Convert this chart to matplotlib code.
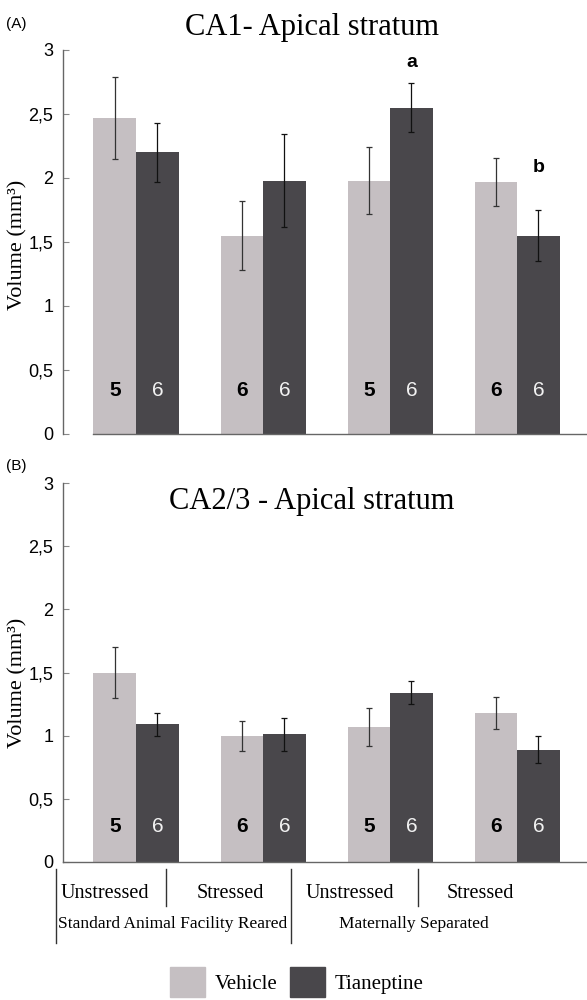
import matplotlib
matplotlib.use('Agg')
import matplotlib.pyplot as plt
from matplotlib.lines import Line2D
import numpy as np

# data
groups = ['Unstressed', 'Stressed', 'Unstressed', 'Stressed']
rearing = ['Standard Animal Facility Reared', 'Maternally Separated']
series = ['Vehicle', 'Tianeptine']

ca1_vehicle = [2.47, 1.55, 1.98, 1.97]
ca1_vehicle_err = [0.32, 0.27, 0.26, 0.19]
ca1_tian = [2.20, 1.98, 2.55, 1.55]
ca1_tian_err = [0.23, 0.36, 0.19, 0.20]

ca23_vehicle = [1.50, 1.00, 1.07, 1.18]
ca23_vehicle_err = [0.20, 0.12, 0.15, 0.13]
ca23_tian = [1.09, 1.01, 1.34, 0.89]
ca23_tian_err = [0.09, 0.13, 0.09, 0.11]

n_vehicle = [5, 6, 5, 6]
n_tian = [6, 6, 6, 6]

sig_letters = {2: 'a', 3: 'b'}   # over tianeptine bars in CA1
yticks = [0, 0.5, 1, 1.5, 2, 2.5, 3]
ytick_labels = ['0', '0,5', '1', '1,5', '2', '2,5', '3']

c_veh = '#c5bfc2'
c_tia = '#49474b'
W, H = 587, 1000
SANS = 'Liberation Sans'
SERIF = 'Liberation Serif'

def fx(px):
    return px / W

def fy(py):
    return 1 - py / H

fig = plt.figure(figsize=(W / 100, H / 100), dpi=100)

w = 0.335
x = np.arange(4)


def panel(top_px, bot_px, veh, veh_err, tia, tia_err, title, title_y, tag, tag_y, label_y, n_y, spine_from_bar):
    ax = fig.add_axes([fx(63), fy(bot_px), fx(587) - fx(63), fy(top_px) - fy(bot_px)])
    ax.bar(x - w / 2, veh, w, color=c_veh, edgecolor='none', zorder=2)
    ax.bar(x + w / 2, tia, w, color=c_tia, edgecolor='none', zorder=2)
    ax.errorbar(x - w / 2, veh, yerr=veh_err, fmt='none', ecolor='#333333',
                elinewidth=0.9, capsize=2.5, capthick=0.9, zorder=3)
    ax.errorbar(x + w / 2, tia, yerr=tia_err, fmt='none', ecolor='#111111',
                elinewidth=0.9, capsize=2.5, capthick=0.9, zorder=3)
    for i in range(4):
        ax.text(x[i] - w / 2, n_y, str(n_vehicle[i]), ha='center', va='center',
                fontsize=15, fontweight='bold', family=SANS, color='black', zorder=4)
        ax.text(x[i] + w / 2, n_y, str(n_tian[i]), ha='center', va='center',
                fontsize=15, family=SANS, color='#f2f2f2', zorder=4)
    ax.set_xlim(-0.575, 3.55)
    ax.set_ylim(0, 3)
    ax.set_yticks(yticks)
    ax.set_yticklabels(ytick_labels, family=SANS, fontsize=13)
    ax.set_xticks([])
    for s in ['top', 'right']:
        ax.spines[s].set_visible(False)
    for s in ['left', 'bottom']:
        ax.spines[s].set_color('#666666')
        ax.spines[s].set_linewidth(1.0)
    if spine_from_bar:
        ax.spines['bottom'].set_bounds(-w, 3.55)
    ax.tick_params(axis='y', direction='in', length=4, width=0.8, color='#888888', pad=7)
    ax.set_facecolor('none')
    fig.text(fx(312), fy(title_y), title, family=SERIF, fontsize=22,
             ha='center', va='center')
    fig.text(fx(6), fy(tag_y), tag, family=SANS, fontsize=11, ha='left', va='center')
    fig.text(fx(18), fy(label_y), 'Volume (mm³)', family=SERIF, fontsize=16,
             rotation=90, ha='center', va='center')
    return ax


axA = panel(50, 434, ca1_vehicle, ca1_vehicle_err, ca1_tian, ca1_tian_err,
            'CA1- Apical stratum', 28, '(A)', 24, 245, 0.34, True)
for i, s in sig_letters.items():
    top = ca1_tian[i] + ca1_tian_err[i]
    axA.text(x[i] + w / 2, top + 0.16 if i == 2 else top + 0.33, s, ha='center', va='center',
             fontsize=14, fontweight='bold', family=SANS)

axB = panel(483, 862, ca23_vehicle, ca23_vehicle_err, ca23_tian, ca23_tian_err,
            'CA2/3 - Apical stratum', 501, '(B)', 466, 683, 0.28, False)

# group labels under panel B
group_x = [105, 230, 350, 480]
for gx, g in zip(group_x, groups):
    fig.text(fx(gx), fy(894), g, family=SERIF, fontsize=14.5, ha='center', va='center')
rear_x = [173, 414]
for rx, r in zip(rear_x, rearing):
    fig.text(fx(rx), fy(924), r, family=SERIF, fontsize=12.5, ha='center', va='center')

for px, y0, y1 in [(56, 869, 943), (166, 869, 906), (291, 869, 943), (418, 869, 906)]:
    fig.add_artist(Line2D([fx(px), fx(px)], [fy(y0), fy(y1)], color='#333333', lw=1.0))

handles = [plt.Rectangle((0, 0), 1, 1, color=c_veh), plt.Rectangle((0, 0), 1, 1, color=c_tia)]
fig.legend(handles, series, loc='center', bbox_to_anchor=(fx(297), fy(982)), ncol=2,
           frameon=False, prop={'family': SERIF, 'size': 15}, handlelength=1.65,
           handleheight=1.8, handletextpad=0.5, columnspacing=0.6, borderpad=0)

fig.savefig('out.png', dpi=100)
